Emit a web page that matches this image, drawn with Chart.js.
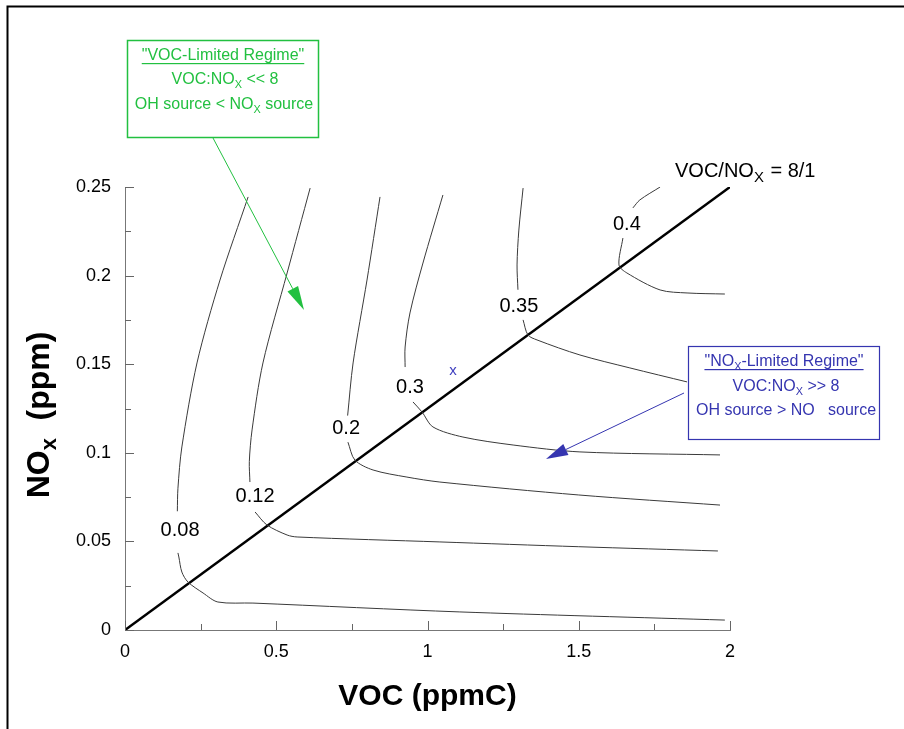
<!DOCTYPE html>
<html>
<head>
<meta charset="utf-8">
<script src="https://cdn.jsdelivr.net/npm/chart.js@4/dist/chart.umd.min.js"></script>
<style>
  html, body { margin: 0; padding: 0; background: #fff; }
  canvas { display: block; }
</style>
</head>
<body>
<canvas id="myChart" width="904" height="729"></canvas>
<script>
// axis ticks
const xTicks = [0, 0.5, 1, 1.5, 2];
const yTicks = [0, 0.05, 0.1, 0.15, 0.2, 0.25];

// ozone isopleths, [VOC, NOx]; null = gap under label
const levels = ["0.08", "0.12", "0.2", "0.3", "0.35", "0.4"];
const iso008 = [[0.407,0.2444],[0.314,0.1975],[0.238,0.1507],[0.188,0.1033],[0.175,0.08],[0.173,0.067],null,
  [0.175,0.0435],[0.178,0.0412],[0.188,0.0327],[0.208,0.0271],[0.258,0.0209],[0.307,0.0158],[0.423,0.0152],[1.107,0.0102],[1.983,0.0056]];
const iso012 = [[0.612,0.2494],[0.536,0.2015],[0.456,0.1507],[0.420,0.1129],[0.411,0.095],[0.413,0.0835],null,
  [0.43,0.0666],[0.469,0.0593],[0.536,0.0536],[0.569,0.0525],[1.041,0.0497],[1.5,0.047],[1.96,0.0446]];
const iso02 = [[0.843,0.2444],[0.800,0.1975],[0.754,0.1507],[0.736,0.121],null,
  [0.737,0.106],[0.760,0.0959],[0.82,0.0903],[0.932,0.0863],[1.041,0.0835],[1.5,0.0762],[1.967,0.0705]];
const iso03 = [[1.051,0.2455],[0.985,0.2071],[0.942,0.1789],[0.926,0.1597],[0.926,0.1484],null,
  [0.952,0.1287],[0.982,0.123],[1.018,0.1146],[1.117,0.1089],[1.283,0.1044],[1.504,0.1005],[1.967,0.0988]];
const iso035 = [[1.316,0.2494],[1.302,0.2257],[1.296,0.206],[1.299,0.192],null,
  [1.316,0.175],[1.332,0.1665],[1.362,0.1637],[1.504,0.1552],[1.669,0.1479],[1.858,0.14]];
const iso04 = [[1.769,0.25],[1.702,0.2427],[1.679,0.2382],null,
  [1.646,0.2212],[1.633,0.206],[1.659,0.2015],[1.769,0.1919],[1.858,0.1902],[1.983,0.1896]];
const isopleths = [iso008, iso012, iso02, iso03, iso035, iso04];

// where each level number is written
const labelX = [0.182, 0.430, 0.731, 0.942, 1.302, 1.659];
const labelY = [0.0559, 0.0751, 0.114, 0.137, 0.1828, 0.2291];

// VOC/NOx = 8/1 ridge line
const ridgeVOC = [0, 2];
const ridgeNOx = [0, 0.25];

// the blue "x" case point
const caseVOC = 1.084;
const caseNOx = 0.146;

const FONT = "'Liberation Sans', Arial, Helvetica, sans-serif";

function toPoints(arr) {
  return arr.map(p => p ? {x: p[0], y: p[1]} : {x: null, y: null});
}

let datasets = isopleths.map(arr => ({
  data: toPoints(arr),
  showLine: true,
  pointRadius: 0,
  borderColor: "#3a3a3a",
  borderWidth: 1,
  tension: 0.3,
  spanGaps: false
}));
datasets.push({
  data: ridgeVOC.map((v, i) => ({x: v, y: ridgeNOx[i]})),
  showLine: true,
  pointRadius: 0,
  borderColor: "#000",
  borderWidth: 2.5
});

// text with subscripts: parts = [[text, isSub], ...]
function richWidth(ctx, parts, size, bold) {
  let w = 0;
  parts.forEach(p => {
    ctx.font = (bold ? "bold " : "") + (p[1] ? size * 0.68 : size) + "px " + FONT;
    w += ctx.measureText(p[0]).width;
  });
  return w;
}
function drawRich(ctx, parts, cx, cy, size, bold, color) {
  let w = richWidth(ctx, parts, size, bold);
  let xx = cx - w / 2;
  ctx.fillStyle = color;
  ctx.textBaseline = "middle";
  ctx.textAlign = "left";
  parts.forEach(p => {
    ctx.font = (bold ? "bold " : "") + (p[1] ? size * 0.68 : size) + "px " + FONT;
    ctx.fillText(p[0], xx, cy + (p[1] ? size * 0.3 : 0));
    xx += ctx.measureText(p[0]).width;
  });
  return w;
}
function arrow(ctx, x1, y1, x2, y2, color, headLen, headW) {
  let a = Math.atan2(y2 - y1, x2 - x1);
  let bx = x2 - headLen * Math.cos(a), by = y2 - headLen * Math.sin(a);
  ctx.strokeStyle = color; ctx.fillStyle = color; ctx.lineWidth = 1;
  ctx.beginPath(); ctx.moveTo(x1, y1); ctx.lineTo(bx, by); ctx.stroke();
  ctx.beginPath();
  ctx.moveTo(x2, y2);
  ctx.lineTo(bx + headW * Math.sin(a), by - headW * Math.cos(a));
  ctx.lineTo(bx - headW * Math.sin(a), by + headW * Math.cos(a));
  ctx.closePath(); ctx.fill();
}

const overlay = {
  id: "overlay",
  afterDraw(chart) {
    const ctx = chart.ctx;
    const xs = chart.scales.x, ys = chart.scales.y;
    ctx.save();

    // outer frame
    ctx.strokeStyle = "#000"; ctx.lineWidth = 2;
    ctx.beginPath(); ctx.moveTo(7.5, 729); ctx.lineTo(7.5, 6.5); ctx.lineTo(904, 6.5); ctx.stroke();

    // inward tick marks
    ctx.strokeStyle = "#666"; ctx.lineWidth = 1;
    for (let i = 0; i <= 8; i++) {
      let px = Math.round(xs.getPixelForValue(i * 0.25)) + 0.5;
      let len = i % 2 === 0 ? 9 : 6;
      ctx.beginPath(); ctx.moveTo(px, ys.bottom); ctx.lineTo(px, ys.bottom - len); ctx.stroke();
    }
    for (let i = 0; i <= 10; i++) {
      let py = Math.round(ys.getPixelForValue(i * 0.025)) + 0.5;
      let len = i % 2 === 0 ? 9 : 6;
      ctx.beginPath(); ctx.moveTo(xs.left, py); ctx.lineTo(xs.left + len, py); ctx.stroke();
    }

    // level numbers
    ctx.fillStyle = "#000"; ctx.font = "20px " + FONT;
    ctx.textAlign = "center"; ctx.textBaseline = "middle";
    levels.forEach((t, i) => {
      ctx.fillText(t, xs.getPixelForValue(labelX[i]), ys.getPixelForValue(labelY[i]));
    });

    // case point
    ctx.fillStyle = "#4040c0"; ctx.font = "15px " + FONT;
    ctx.fillText("x", xs.getPixelForValue(caseVOC), ys.getPixelForValue(caseNOx));

    // ridge label
    ctx.textAlign = "left";
    let rx = 675, ry = 171;
    ctx.fillStyle = "#000";
    ctx.font = "20px " + FONT;
    ctx.fillText("VOC/NO", rx, ry); rx += ctx.measureText("VOC/NO").width;
    ctx.font = "15px " + FONT;
    ctx.fillText("X", rx, ry + 7); rx += ctx.measureText("X").width + 1;
    ctx.font = "20px " + FONT;
    ctx.fillText(" = 8/1", rx, ry);

    // axis titles
    ctx.fillStyle = "#000"; ctx.font = "bold 30px " + FONT;
    ctx.textAlign = "center";
    ctx.fillText("VOC (ppmC)", (xs.left + xs.right) / 2, 697);
    ctx.save();
    ctx.translate(40, 415); ctx.rotate(-Math.PI / 2);
    drawRich(ctx, [["NO", false], ["x", true], ["  (ppm)", false]], 0, 0, 32, true, "#000");
    ctx.restore();

    // VOC-limited box
    const green = "#22c040";
    ctx.strokeStyle = green; ctx.lineWidth = 1.5;
    ctx.strokeRect(127.5, 40.5, 191, 97);
    let w1 = drawRich(ctx, [["\"VOC-Limited Regime\"", false]], 223, 56, 16, false, green);
    ctx.fillRect(223 - w1 / 2, 63, w1, 1.2);
    drawRich(ctx, [["VOC:NO", false], ["X", true], [" << 8", false]], 225, 80, 16, false, green);
    drawRich(ctx, [["OH source < NO", false], ["X", true], [" source", false]], 224, 105, 16, false, green);
    arrow(ctx, 213, 138, 304, 310, green, 24, 6);

    // NOx-limited box
    const blue = "#3535b0";
    ctx.strokeStyle = blue; ctx.lineWidth = 1.2;
    ctx.strokeRect(688.5, 346.5, 191, 93);
    let w2 = drawRich(ctx, [["\"NO", false], ["X", true], ["-Limited Regime\"", false]], 784, 362, 16, false, blue);
    ctx.fillStyle = blue; ctx.fillRect(784 - w2 / 2, 369, w2, 1.2);
    drawRich(ctx, [["VOC:NO", false], ["X", true], [" >> 8", false]], 786, 387, 16, false, blue);
    drawRich(ctx, [["OH source > NO   source", false]], 786, 411, 16, false, blue);
    arrow(ctx, 684, 393, 546, 459, blue, 22, 6);

    ctx.restore();
  }
};

new Chart(document.getElementById("myChart"), {
  type: "scatter",
  data: { datasets: datasets },
  options: {
    responsive: false,
    animation: false,
    events: [],
    layout: { padding: { top: 187, right: 174, left: 0, bottom: 0 } },
    plugins: { legend: { display: false }, tooltip: { enabled: false } },
    scales: {
      x: {
        type: "linear", min: 0, max: 2,
        afterBuildTicks: s => { s.ticks = xTicks.map(v => ({ value: v })); },
        ticks: { color: "#000", font: { size: 18, family: FONT }, padding: 11, maxRotation: 0, callback: v => String(v) },
        grid: { display: false, drawTicks: false },
        border: { display: true, color: "#777", width: 1 },
        afterFit: s => { s.height = 99; }
      },
      y: {
        type: "linear", min: 0, max: 0.25,
        afterBuildTicks: s => { s.ticks = yTicks.map(v => ({ value: v })); },
        ticks: { color: "#000", font: { size: 18, family: FONT }, padding: 14, callback: v => String(v) },
        grid: { display: false, drawTicks: false },
        border: { display: true, color: "#777", width: 1 },
        afterFit: s => { s.width = 125; }
      }
    }
  },
  plugins: [overlay]
});
</script>
</body>
</html>
